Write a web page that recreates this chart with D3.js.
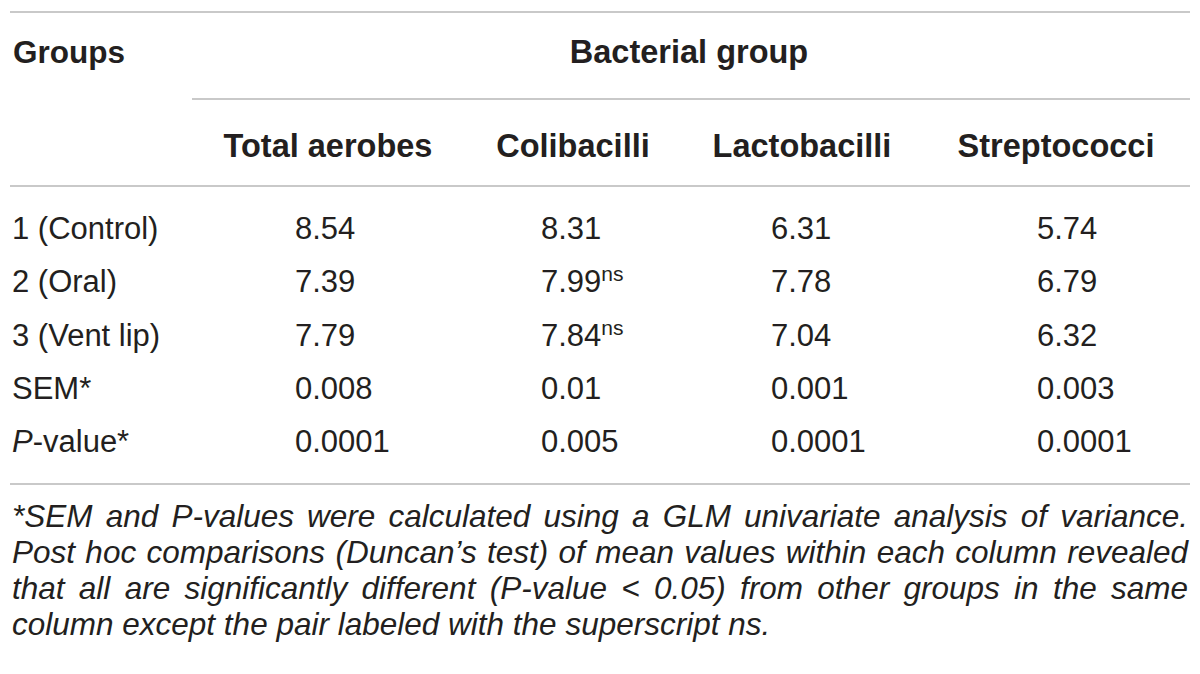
<!DOCTYPE html>
<html><head><meta charset="utf-8">
<script src="https://cdn.jsdelivr.net/npm/d3@7"></script>
<style>
html,body{margin:0;padding:0;background:#fff;}
svg{display:block;}
text{font-family:"Liberation Sans",Arial,Helvetica,sans-serif;fill:#231f20;}
</style></head>
<body>
<svg id="chart" width="1200" height="674"></svg>
<script>
// ---- data ----
const spanHeader = "Bacterial group";
const stubHeader = "Groups";
const columns = ["Total aerobes", "Colibacilli", "Lactobacilli", "Streptococci"];
const rowLabels = ["1 (Control)", "2 (Oral)", "3 (Vent lip)", "SEM*", "P-value*"];
const totalAerobes = ["8.54", "7.39", "7.79", "0.008", "0.0001"];
const colibacilli  = ["8.31", "7.99", "7.84", "0.01", "0.005"];
const lactobacilli = ["6.31", "7.78", "7.04", "0.001", "0.0001"];
const streptococci = ["5.74", "6.79", "6.32", "0.003", "0.0001"];
const colibacilliSup = ["", "ns", "ns", "", ""];
const footnoteLines = [
  "*SEM and P-values were calculated using a GLM univariate analysis of variance.",
  "Post hoc comparisons (Duncan\u2019s test) of mean values within each column revealed",
  "that all are significantly different (P-value < 0.05) from other groups in the same",
  "column except the pair labeled with the superscript ns."
];

const values = [totalAerobes, colibacilli, lactobacilli, streptococci];
const sups = [null, colibacilliSup, null, null];

// ---- layout ----
const svg = d3.select("#chart");
const FS = 31;
const HFS = 32.5;
const ruleColor = "#c9c9c9";
const colCenter = d3.scaleOrdinal().domain(columns).range([328, 573, 802, 1056]);
const valueLeft = d3.scaleOrdinal().domain(columns).range([295, 541, 771, 1037]);
const rowY = d3.scalePoint().domain(rowLabels).range([239, 452]);

function rule(y, x1, x2) {
  svg.append("line").attr("x1", x1).attr("x2", x2).attr("y1", y).attr("y2", y)
    .attr("stroke", ruleColor).attr("stroke-width", 2);
}
rule(12, 10, 1190);
rule(99, 192, 1190);
rule(186, 10, 1190);
rule(484, 10, 1190);

svg.append("text").attr("x", 13).attr("y", 63).attr("font-size", 31.5)
  .attr("font-weight", "bold").text(stubHeader);
svg.append("text").attr("x", 689).attr("y", 63).attr("font-size", HFS)
  .attr("font-weight", "bold").attr("text-anchor", "middle").text(spanHeader);

svg.selectAll("text.colh").data(columns).join("text").attr("class", "colh")
  .attr("x", d => colCenter(d)).attr("y", 157).attr("font-size", HFS)
  .attr("font-weight", "bold").attr("text-anchor", "middle").text(d => d);

// row labels
svg.selectAll("text.rowl").data(rowLabels).join("text").attr("class", "rowl")
  .attr("x", 12).attr("y", d => rowY(d)).attr("font-size", FS)
  .each(function(d) {
    const t = d3.select(this);
    if (d.startsWith("P-")) {
      t.append("tspan").attr("font-style", "italic").text("P");
      t.append("tspan").text(d.slice(1));
    } else t.text(d);
  });

// values
columns.forEach((c, ci) => {
  const g = svg.append("g");
  g.selectAll("text").data(values[ci]).join("text")
    .attr("x", valueLeft(c)).attr("y", (d, i) => rowY(rowLabels[i]))
    .attr("font-size", FS)
    .each(function(d, i) {
      const t = d3.select(this);
      t.append("tspan").text(d);
      if (sups[ci] && sups[ci][i]) {
        t.append("tspan").attr("font-size", 21).attr("dy", -11).text(sups[ci][i]);
      }
    });
});

// footnote (justified)
const FN = 31.5;
const fnY = d3.scalePoint().domain(d3.range(footnoteLines.length)).range([527, 635]);
const left = 12, right = 1188;
footnoteLines.forEach((line, li) => {
  const y = fnY(li);
  const words = line.split(" ");
  const justify = li < footnoteLines.length - 1;
  const tmp = svg.append("g");
  const widths = words.map(w => {
    const t = tmp.append("text").attr("font-size", FN).attr("font-style", "italic").text(w);
    return t.node().getComputedTextLength();
  });
  tmp.remove();
  const total = d3.sum(widths);
  const spaceNat = FN * 0.278;
  const gap = justify ? (right - left - total) / (words.length - 1) : spaceNat;
  let x = left;
  words.forEach((w, wi) => {
    svg.append("text").attr("x", x).attr("y", y).attr("font-size", FN)
      .attr("font-style", "italic").text(w);
    x += widths[wi] + gap;
  });
});
</script>
</body></html>
